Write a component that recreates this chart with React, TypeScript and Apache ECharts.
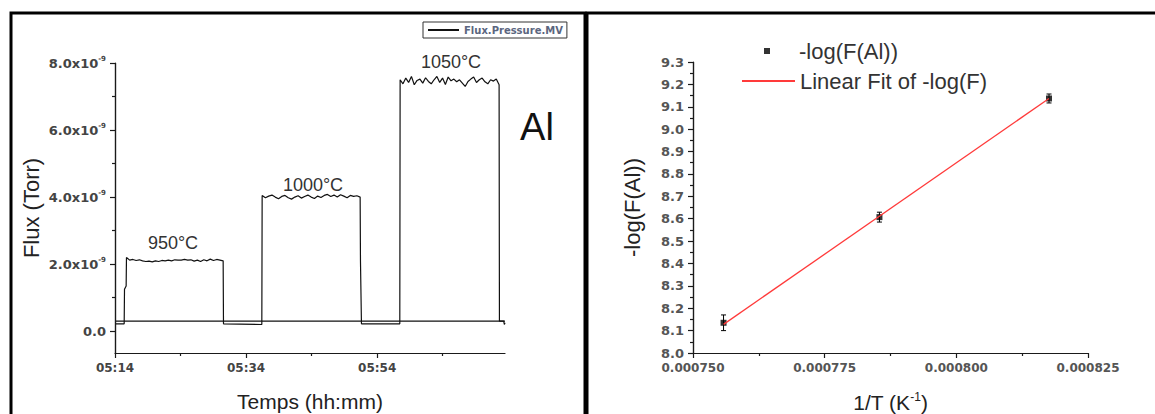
import React, { useEffect, useRef } from "react";
import * as echarts from "echarts";

// ---------- Left panel data (time in minutes after 05:14, flux in 1e-9 Torr) ----------
const START_MIN = 5 * 60 + 14;
const timeTicks = [0, 20, 40];
const timeMinorTicks = [10, 30, 50];
const timeRange = [0, 59.5];
const fluxTicks = [0, 2, 4, 6, 8];
const fluxMinorTicks = [1, 3, 5, 7];
const fluxRange = [-0.65, 8];

const baselineFlat = 0.3;

const rise950 = [[0, 0.22], [1.4, 0.22], [1.45, 1.25], [1.7, 1.35]];
const span950 = [1.75, 16.5];
const plateau950 = [2.2, 2.12, 2.14, 2.11, 2.13, 2.1, 2.08, 2.09, 2.07, 2.1, 2.08, 2.11, 2.1, 2.12, 2.1, 2.13, 2.12, 2.12, 2.14, 2.12, 2.13, 2.09, 2.12, 2.08, 2.13, 2.1, 2.15, 2.11, 2.14, 2.12, 2.1];
const gap1 = [[16.55, 0.22], [22.4, 0.2]];
const span1000 = [22.45, 37.4];
const plateau1000 = [4.05, 3.98, 4.03, 4.06, 4.0, 3.95, 4.02, 4.05, 3.98, 3.94, 4.0, 4.04, 3.97, 4.02, 4.06, 4.0, 3.96, 4.03, 3.99, 4.05, 4.08, 4.02, 4.06, 4.0, 4.07, 4.03, 3.98, 4.05, 4.02, 4.04, 4.0];
const gap2 = [[37.45, 2.1], [37.6, 0.22], [43.45, 0.22]];
const span1050 = [43.5, 58.6];
const plateau1050 = [7.5, 7.38, 7.55, 7.42, 7.6, 7.35, 7.48, 7.52, 7.4, 7.56, 7.45, 7.38, 7.5, 7.6, 7.42, 7.55, 7.36, 7.58, 7.47, 7.52, 7.44, 7.5, 7.4, 7.3, 7.45, 7.52, 7.58, 7.42, 7.5, 7.55, 7.44, 7.38, 7.5, 7.46, 7.52, 7.35];
const tail = [[58.65, 0.3], [59.3, 0.3], [59.4, 0.2], [59.5, 0.25]];

// ---------- Right panel data ----------
const invT = [0.0007558, 0.0007854, 0.0008176];
const negLogF = [8.135, 8.607, 9.137];
const negLogFErr = [0.035, 0.022, 0.02];
const fitInvT = [0.0007558, 0.0008176];
const fitNegLogF = [8.128, 9.137];
const invTRange = [0.00075, 0.000825];
const invTStep = 0.000025;
const negLogFRange = [8.0, 9.3];
const negLogFStep = 0.1;

const plateau = (span: number[], vals: number[]) =>
  vals.map((v, i) => [span[0] + (i * (span[1] - span[0])) / (vals.length - 1), v]);

const fmtTime = (v: number) => {
  const t = Math.round(START_MIN + v);
  const h = Math.floor(t / 60);
  const m = t % 60;
  return String(h).padStart(2, "0") + ":" + String(m).padStart(2, "0");
};

const TICK_FONT = "DejaVu Sans";
const TITLE_FONT = "Liberation Sans, Arial, sans-serif";
const AX = "#1a1a1a";

const mkLine = () => ({ show: true, onZero: false, lineStyle: { color: AX, width: 1.2 } });
const tickStyle = () => ({ color: AX, width: 1.2 });

// axis frame lines (left + bottom) drawn through the axes' own scales
const frameMarkLine = (xr: number[], yr: number[]) => ({
  silent: true,
  symbol: ["none", "none"],
  label: { show: false },
  lineStyle: { color: AX, width: 1.2, type: "solid" },
  emphasis: { disabled: true },
  data: [
    [{ coord: [xr[0], yr[0]] }, { coord: [xr[0], yr[1]] }],
    [{ coord: [xr[0], yr[0]] }, { coord: [xr[1], yr[0]] }],
  ],
});

export default function App() {
  const ref = useRef<HTMLDivElement>(null);
  useEffect(() => {
    if (!ref.current) return;
    const chart = echarts.init(ref.current, undefined, { renderer: "svg" });

    const trace = [
      ...rise950,
      ...plateau(span950, plateau950),
      ...gap1,
      ...plateau(span1000, plateau1000),
      ...gap2,
      ...plateau(span1050, plateau1050),
      ...tail,
    ];
    const baseline = [
      [timeRange[0], baselineFlat],
      [timeRange[1], baselineFlat],
    ];

    const hiddenSymbol = { color: "rgba(0,0,0,0)", borderWidth: 0, opacity: 0 };

    const option: any = {
      animation: false,
      backgroundColor: "#ffffff",
      grid: [
        { left: 115, top: 63, width: 390, height: 290, outerBoundsMode: "none", containLabel: false },
        { left: 693, top: 62, width: 395, height: 291, outerBoundsMode: "none", containLabel: false },
      ],
      legend: [
        {
          data: ["Flux.Pressure.MV"],
          left: 423,
          top: 22,
          padding: [3, 4],
          borderColor: "#333",
          borderWidth: 1,
          itemWidth: 31,
          itemHeight: 10,
          selectedMode: false,
          itemStyle: hiddenSymbol,
          textStyle: { fontSize: 10, fontWeight: "bold", fontFamily: TICK_FONT, color: "#5b6680" },
        },
        {
          data: [{ name: "-log(F(Al))", icon: "rect" }],
          left: 764,
          top: 38,
          padding: 0,
          itemWidth: 6,
          itemHeight: 6,
          selectedMode: false,
          textStyle: { fontSize: 22, fontFamily: TITLE_FONT, color: "#333", padding: [0, 0, 0, 24], lineHeight: 26 },
        },
        {
          data: ["Linear Fit of -log(F)"],
          left: 741,
          top: 68,
          padding: 0,
          itemWidth: 53,
          itemHeight: 10,
          selectedMode: false,
          itemStyle: hiddenSymbol,
          textStyle: { fontSize: 22, fontFamily: TITLE_FONT, color: "#333", lineHeight: 26 },
        },
      ],
      xAxis: [
        {
          type: "value",
          gridIndex: 0,
          position: "bottom",
          min: timeRange[0],
          max: timeRange[1],
          axisLine: mkLine(),
          axisTick: { show: true, customValues: timeTicks, length: 5, lineStyle: tickStyle() },
          axisLabel: {
            customValues: timeTicks,
            formatter: fmtTime,
            fontFamily: TICK_FONT,
            fontWeight: "bold",
            fontSize: 12,
            color: "#444",
            margin: 9,
          },
          splitLine: { show: false },
          name: "Temps (hh:mm)",
          nameLocation: "middle",
          nameGap: 38,
          nameTextStyle: { fontSize: 21, fontFamily: TITLE_FONT, color: "#222" },
        },
        {
          type: "value",
          gridIndex: 0,
          position: "bottom",
          min: timeRange[0],
          max: timeRange[1],
          axisLine: { show: false, onZero: false },
          axisTick: { show: true, customValues: timeMinorTicks, length: 3, lineStyle: tickStyle() },
          axisLabel: { show: false },
          splitLine: { show: false },
        },
        {
          type: "value",
          gridIndex: 1,
          position: "bottom",
          min: invTRange[0],
          max: invTRange[1],
          interval: invTStep,
          axisLine: mkLine(),
          axisTick: { show: true, length: 5, lineStyle: tickStyle() },
          minorTick: { show: true, splitNumber: 2, length: 3, lineStyle: tickStyle() },
          axisLabel: {
            formatter: (v: number) => v.toFixed(6),
            fontFamily: TICK_FONT,
            fontWeight: "bold",
            fontSize: 12,
            color: "#555",
            margin: 9,
          },
          splitLine: { show: false },
          name: "{a|1/T (K}{s|-1}{a|)}",
          nameLocation: "middle",
          nameGap: 38,
          nameTextStyle: {
            rich: {
              a: { fontSize: 21, fontFamily: TITLE_FONT, color: "#222" },
              s: { fontSize: 12, fontFamily: TITLE_FONT, color: "#222", verticalAlign: "top", padding: [0, 0, 10, 0] },
            },
          },
        },
      ],
      yAxis: [
        {
          type: "value",
          gridIndex: 0,
          position: "left",
          min: fluxRange[0],
          max: fluxRange[1],
          axisLine: mkLine(),
          axisTick: { show: true, customValues: fluxTicks, length: 5, lineStyle: tickStyle() },
          axisLabel: {
            customValues: fluxTicks,
            margin: 9,
            formatter: (v: number) =>
              v === 0 ? "{b|0.0}" : "{b|" + v.toFixed(1) + "x10}{s|-9}",
            rich: {
              b: { fontFamily: TICK_FONT, fontWeight: "bold", fontSize: 13, color: "#444" },
              s: { fontFamily: TICK_FONT, fontWeight: "bold", fontSize: 7, color: "#444", verticalAlign: "top", padding: [0, 0, 8, 0] },
            },
          },
          splitLine: { show: false },
          name: "Flux (Torr)",
          nameLocation: "middle",
          nameGap: 73,
          nameTextStyle: { fontSize: 22, fontFamily: TITLE_FONT, color: "#222" },
        },
        {
          type: "value",
          gridIndex: 0,
          position: "left",
          min: fluxRange[0],
          max: fluxRange[1],
          axisLine: { show: false, onZero: false },
          axisTick: { show: true, customValues: fluxMinorTicks, length: 3, lineStyle: tickStyle() },
          axisLabel: { show: false },
          splitLine: { show: false },
        },
        {
          type: "value",
          gridIndex: 1,
          position: "left",
          min: negLogFRange[0],
          max: negLogFRange[1],
          interval: negLogFStep,
          axisLine: mkLine(),
          axisTick: { show: true, length: 5, lineStyle: tickStyle() },
          minorTick: { show: true, splitNumber: 2, length: 3, lineStyle: tickStyle() },
          axisLabel: {
            formatter: (v: number) => v.toFixed(1),
            fontFamily: TICK_FONT,
            fontWeight: "bold",
            fontSize: 13,
            color: "#555",
            margin: 9,
          },
          splitLine: { show: false },
          name: "-log(F(Al))",
          nameLocation: "middle",
          nameGap: 50,
          nameTextStyle: { fontSize: 22, fontFamily: TITLE_FONT, color: "#222" },
        },
      ],
      series: [
        {
          name: "Flux.Pressure.MV",
          type: "line",
          xAxisIndex: 0,
          yAxisIndex: 0,
          data: trace,
          symbol: "none",
          lineStyle: { color: "#111", width: 1.2 },
          itemStyle: { color: "#111" },
          markLine: frameMarkLine(timeRange, fluxRange),
        },
        {
          name: "Flux.Pressure.MV",
          type: "line",
          xAxisIndex: 0,
          yAxisIndex: 0,
          data: baseline,
          symbol: "none",
          lineStyle: { color: "#111", width: 1.2 },
          itemStyle: { color: "#111" },
        },
        {
          name: "Linear Fit of -log(F)",
          type: "line",
          xAxisIndex: 2,
          yAxisIndex: 2,
          data: fitInvT.map((x, i) => [x, fitNegLogF[i]]),
          symbol: "none",
          lineStyle: { color: "#ff3a3a", width: 1.3 },
          itemStyle: { color: "#ff3a3a" },
        },
        {
          name: "errorBars",
          type: "custom",
          xAxisIndex: 2,
          yAxisIndex: 2,
          data: invT.map((x, i) => [x, negLogF[i], negLogFErr[i]]),
          encode: { x: 0, y: 1 },
          renderItem: (_params: any, api: any) => {
            const x = api.value(0);
            const y = api.value(1);
            const e = api.value(2);
            const top = api.coord([x, y + e]);
            const bot = api.coord([x, y - e]);
            const w = 2.5;
            const st = { stroke: "#000", lineWidth: 1 };
            return {
              type: "group",
              children: [
                { type: "line", shape: { x1: top[0], y1: top[1], x2: bot[0], y2: bot[1] }, style: st },
                { type: "line", shape: { x1: top[0] - w, y1: top[1], x2: top[0] + w, y2: top[1] }, style: st },
                { type: "line", shape: { x1: bot[0] - w, y1: bot[1], x2: bot[0] + w, y2: bot[1] }, style: st },
              ],
            };
          },
        },
        {
          name: "-log(F(Al))",
          type: "scatter",
          xAxisIndex: 2,
          yAxisIndex: 2,
          data: invT.map((x, i) => [x, negLogF[i]]),
          symbol: "rect",
          symbolSize: 6,
          itemStyle: { color: "#000" },
          markLine: frameMarkLine(invTRange, negLogFRange),
        },
      ],
      graphic: [
        {
          type: "rect",
          silent: true,
          shape: { x: 11, y: 13, width: 574, height: 440 },
          style: { fill: "none", stroke: "#000", lineWidth: 3 },
        },
        {
          type: "rect",
          silent: true,
          shape: { x: 587, y: 13, width: 620, height: 440 },
          style: { fill: "none", stroke: "#000", lineWidth: 3 },
        },
        {
          type: "text",
          x: 173,
          y: 243,
          style: { text: "950°C", fontSize: 18, fontFamily: TITLE_FONT, fill: "#333", align: "center", verticalAlign: "middle" },
        },
        {
          type: "text",
          x: 313,
          y: 185,
          style: { text: "1000°C", fontSize: 18, fontFamily: TITLE_FONT, fill: "#333", align: "center", verticalAlign: "middle" },
        },
        {
          type: "text",
          x: 451,
          y: 62,
          style: { text: "1050°C", fontSize: 18, fontFamily: TITLE_FONT, fill: "#333", align: "center", verticalAlign: "middle" },
        },
        {
          type: "text",
          x: 537,
          y: 127,
          style: { text: "Al", fontSize: 38, fontFamily: TITLE_FONT, fill: "#111", align: "center", verticalAlign: "middle" },
        },
      ],
    };
    chart.setOption(option);
    return () => chart.dispose();
  }, []);

  return (
    <div
      ref={ref}
      style={{ position: "absolute", left: 0, top: 0, width: 1155, height: 414, background: "#fff" }}
    />
  );
}
